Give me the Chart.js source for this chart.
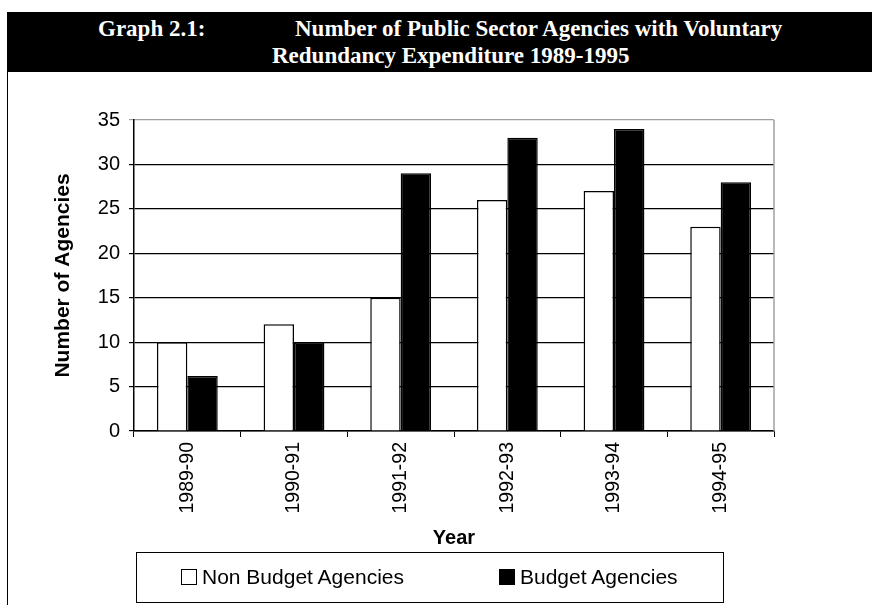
<!DOCTYPE html>
<html>
<head>
<meta charset="utf-8">
<script src="https://cdn.jsdelivr.net/npm/chart.js@4/dist/chart.umd.min.js"></script>
<style>
  body { margin: 0; width: 872px; height: 605px; background: #fff; position: relative; overflow: hidden;
         font-family: "Liberation Sans", Arial, sans-serif; }
  #frame { position: absolute; left: 7px; top: 12px; width: 1px; height: 593px; background: #000; }
  #head { position: absolute; left: 7px; top: 12px; right: 0; height: 60px; background: #000; color: #fff;
          font: bold 23px "Liberation Serif", "Times New Roman", serif; }
  #head span { position: absolute; white-space: nowrap; line-height: 26px; }
  #chart { position: absolute; left: 0; top: 0; }
  #legend { position: absolute; left: 136px; top: 552px; width: 586px; height: 49px; border: 1px solid #000;
            font-size: 21px; color: #000; }
  #legend .item { position: absolute; top: 12px; white-space: nowrap; line-height: 24px; }
  #legend .box { display: inline-block; width: 14px; height: 14px; border: 1px solid #000; vertical-align: -1px; margin-right: 5px; }
</style>
</head>
<body>
<div id="frame"></div>
<div id="head">
  <span style="left:91px;top:4px">Graph 2.1:</span>
  <span style="left:288px;top:4px">Number of Public Sector Agencies with Voluntary</span>
  <span style="left:265px;top:31px">Redundancy Expenditure 1989-1995</span>
</div>
<canvas id="chart" width="872" height="605"></canvas>
<div id="legend"></div>

<script>
const years = ["1989-90", "1990-91", "1991-92", "1992-93", "1993-94", "1994-95"];
const seriesNames = ["Non Budget Agencies", "Budget Agencies"];
const nonBudget = [10, 12, 15, 26, 27, 23];
const budget = [6.2, 10, 29, 33, 34, 28];
const yTicks = [0, 5, 10, 15, 20, 25, 30, 35];

const fills = ["#ffffff", "#000000"];

// gray border on the right side of the plot area
const plotBorder = {
    id: "plotBorder",
    afterDatasetsDraw(chart) {
        const { ctx, chartArea } = chart;
        ctx.save();
        ctx.strokeStyle = "#a0a0a0";
        ctx.lineWidth = 1.5;
        ctx.beginPath();
        ctx.moveTo(chartArea.right, chartArea.top);
        ctx.lineTo(chartArea.right, chartArea.bottom);
        ctx.stroke();
        ctx.restore();
    }
};

const chart = new Chart(document.getElementById("chart").getContext("2d"), {
    type: "bar",
    data: {
        labels: years,
        datasets: [
            { label: seriesNames[0], data: nonBudget, backgroundColor: fills[0], borderColor: "#000", borderWidth: 1.5 },
            { label: seriesNames[1], data: budget, backgroundColor: fills[1], borderColor: "#000", borderWidth: 1.5 }
        ]
    },
    options: {
        responsive: false,
        animation: false,
        categoryPercentage: 0.57,
        barPercentage: 1.0,
        layout: { padding: { left: 0, right: 98, top: 120, bottom: 55 } },
        plugins: { legend: { display: false }, tooltip: { enabled: false } },
        scales: {
            x: {
                grid: { offset: true, drawOnChartArea: false, drawTicks: true, tickLength: 6, color: "#000" },
                border: { color: "#000", width: 1.5 },
                ticks: { color: "#000", font: { family: "Liberation Sans", size: 19.5 }, minRotation: 90, maxRotation: 90, padding: 5 },
                title: { display: true, text: "Year", color: "#000", font: { family: "Liberation Sans", size: 20, weight: "bold" }, padding: { top: 0, bottom: 0 } },
                afterFit(scale) { scale.height = 119; }
            },
            y: {
                min: 0,
                max: 35,
                afterBuildTicks(scale) { scale.ticks = yTicks.map(v => ({ value: v })); },
                grid: {
                    color: ctx => ctx.tick && ctx.tick.value === 35 ? "#a0a0a0" : "#000",
                    lineWidth: 1.2,
                    tickLength: 5
                },
                border: { color: "#000", width: 1.5 },
                ticks: { color: "#000", font: { family: "Liberation Sans", size: 20 }, padding: 9 },
                title: { display: true, text: "Number of Agencies", color: "#000", font: { family: "Liberation Sans", size: 21, weight: "bold" }, padding: { top: 51, bottom: 0 } },
                afterFit(scale) { scale.width = 134; }
            }
        }
    },
    plugins: [plotBorder]
});

// legend box built from the dataset names
const legendEl = document.getElementById("legend");
const itemLeft = [44, 362];
chart.data.datasets.forEach((ds, i) => {
    const item = document.createElement("div");
    item.className = "item";
    item.style.left = itemLeft[i] + "px";
    item.innerHTML = `<span class="box" style="background:${ds.backgroundColor}"></span>${ds.label}`;
    legendEl.appendChild(item);
});
</script>
</body>
</html>
